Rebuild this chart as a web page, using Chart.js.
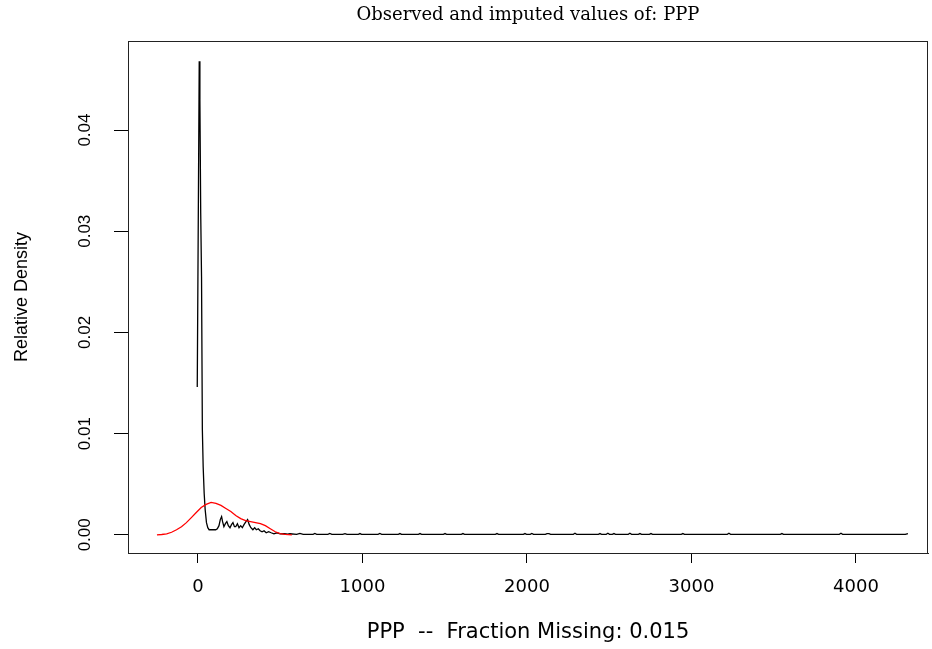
<!DOCTYPE html>
<html>
<head>
<meta charset="utf-8">
<script src="https://cdn.jsdelivr.net/npm/chart.js@4/dist/chart.umd.min.js"></script>
<style>
html, body { margin: 0; padding: 0; background: #ffffff; }
#wrap { width: 932px; height: 649px; }
</style>
</head>
<body>
<div id="wrap"><canvas id="c" width="932" height="649"></canvas></div>
<script>
// Observed density (black)
const obsX = [-4, 2, 8, 12, 17, 22, 27, 32, 38, 44, 52, 60, 68, 80, 95, 108, 118, 128, 136, 144,
  150, 158, 167, 176, 185, 195, 204, 213, 222, 230, 240, 250, 260, 270, 280, 292, 302, 312, 322, 334,
  345, 355, 367, 378, 390, 402, 415, 430, 445, 462, 480, 500, 525, 545,
  560, 600, 620, 640, 700, 711, 722, 790, 802, 814, 880, 894, 906, 975, 985, 995,
  1095, 1106, 1117, 1218, 1228, 1238, 1340, 1350, 1360, 1492, 1502, 1512, 1601, 1611, 1621,
  1808, 1818, 1828, 1978, 1988, 1998, 2020, 2030, 2040, 2112, 2122, 2134, 2144,
  2282, 2292, 2302, 2434, 2444, 2454, 2482, 2492, 2502, 2519, 2529, 2539,
  2616, 2626, 2636, 2677, 2687, 2697, 2744, 2754, 2764, 2938, 2948, 2958,
  3218, 3228, 3238, 3540, 3550, 3560, 3899, 3909, 3919, 4300, 4316];
const obsY = [0.0146, 0.0307, 0.0468, 0.0430, 0.0318, 0.0255, 0.0104, 0.0067, 0.0041, 0.0025,
  0.0012, 0.0007, 0.0005, 0.0005, 0.0005, 0.0005, 0.0006, 0.0009, 0.0015, 0.0018,
  0.0013, 0.0008, 0.0011, 0.0013, 0.0009, 0.0007, 0.0010, 0.0012, 0.0008, 0.0008,
  0.0011, 0.0007, 0.0009, 0.0007, 0.0010, 0.0013, 0.0015, 0.0010, 0.0007, 0.0005,
  0.0007, 0.0005, 0.0006, 0.0004, 0.0003, 0.0004, 0.0002, 0.0003, 0.0002, 0.0001,
  0.0002, 0.0001, 0.00012, 0.00006,
  0.0001, 0.00005, 0.00013, 0.00005, 0.00005, 0.00013, 0.00005, 0.00005, 0.00013, 0.00005,
  0.00005, 0.00012, 0.00005, 0.00005, 0.00012, 0.00005,
  0.00005, 0.00013, 0.00005, 0.00005, 0.00012, 0.00005, 0.00005, 0.00012, 0.00005,
  0.00005, 0.00012, 0.00005, 0.00005, 0.00012, 0.00005,
  0.00005, 0.00012, 0.00005, 0.00005, 0.00012, 0.00005, 0.00005, 0.00014, 0.00005,
  0.00005, 0.00012, 0.00012, 0.00005,
  0.00005, 0.00015, 0.00005, 0.00005, 0.00012, 0.00005, 0.00005, 0.00015, 0.00005,
  0.00005, 0.00012, 0.00005,
  0.00005, 0.00015, 0.00005, 0.00005, 0.00012, 0.00005, 0.00005, 0.00012, 0.00005,
  0.00005, 0.00012, 0.00005,
  0.00005, 0.00015, 0.00005, 0.00005, 0.00012, 0.00005, 0.00005, 0.00015, 0.00005,
  0.00005, 0.00012];

// Imputed density (red)
const impX = [-249, -220, -190, -160, -130, -100, -70, -40, -10, 20, 50, 80, 110, 140, 170,
  200, 230, 260, 290, 320, 350, 380, 410, 440, 470, 500, 530, 571];
const impY = [0.0, 0.00003, 0.0001, 0.00025, 0.0005, 0.0008, 0.0012, 0.0017, 0.0022, 0.0027,
  0.0030, 0.0032, 0.0031, 0.0029, 0.0026, 0.0023, 0.0019, 0.0016, 0.0014, 0.0013,
  0.0012, 0.0011, 0.0009, 0.0006, 0.0003, 0.00012, 0.00004, 0.0];

const xTicks = [0, 1000, 2000, 3000, 4000];
const xTickLabels = ['0', '1000', '2000', '3000', '4000'];
const yTicks = [0, 0.01, 0.02, 0.03, 0.04];
const yTickLabels = ['0.00', '0.01', '0.02', '0.03', '0.04'];

const titleText = 'Observed and imputed values of: PPP';
const xTitleText = 'PPP  --  Fraction Missing: 0.015';
const yTitleText = 'Relative Density';

const obsData = obsX.map((x, i) => ({ x: x, y: obsY[i] }));
const impData = impX.map((x, i) => ({ x: x, y: impY[i] }));

const boxPlugin = {
  id: 'box',
  afterDatasetsDraw(chart) {
    const { ctx, chartArea: a } = chart;
    ctx.save();
    ctx.strokeStyle = '#222';
    ctx.lineWidth = 1;
    ctx.strokeRect(Math.round(a.left) + 0.5, Math.round(a.top) + 0.5,
      Math.round(a.right - a.left) - 1, Math.round(a.bottom - a.top));
    ctx.restore();
  }
};

new Chart(document.getElementById('c'), {
  type: 'line',
  data: {
    datasets: [
      { label: 'Imputed', data: impData, borderColor: '#ff0000', borderWidth: 1.3,
        pointRadius: 0, tension: 0, fill: false },
      { label: 'Observed', data: obsData, borderColor: '#000000', borderWidth: 1.3,
        pointRadius: 0, tension: 0, fill: false }
    ]
  },
  options: {
    responsive: false,
    animation: false,
    devicePixelRatio: 1,
    layout: { padding: { left: 0, right: 4, top: 0, bottom: 0 } },
    plugins: {
      legend: { display: false },
      tooltip: { enabled: false },
      title: {
        display: true,
        text: titleText,
        fullSize: false,
        color: '#000',
        font: { family: 'DejaVu Serif', size: 18, weight: 'normal', lineHeight: 1.2 },
        padding: { top: 5, bottom: 14.4 }
      }
    },
    scales: {
      x: {
        type: 'linear',
        min: -425,
        max: 4438,
        afterBuildTicks: s => { s.ticks = xTicks.map(v => ({ value: v })); },
        afterFit: s => { s.height = 96; },
        grid: { display: true, drawOnChartArea: false, drawTicks: true, tickLength: 10, color: '#000', lineWidth: 1 },
        border: { display: true, color: '#222' },
        ticks: {
          callback: (v, i) => xTickLabels[i],
          color: '#000',
          font: { family: 'DejaVu Sans', size: 18 },
          padding: 14,
          maxRotation: 0, minRotation: 0, autoSkip: false
        },
        title: {
          display: true,
          text: xTitleText,
          color: '#000',
          font: { family: 'DejaVu Sans', size: 21, lineHeight: 1.2 },
          padding: { top: 0, bottom: 4 }
        }
      },
      y: {
        type: 'linear',
        min: -0.0018,
        max: 0.0488,
        afterBuildTicks: s => { s.ticks = yTicks.map(v => ({ value: v })); },
        afterFit: s => { s.width = 128; },
        grid: { display: true, drawOnChartArea: false, drawTicks: true, tickLength: 14, color: '#000', lineWidth: 1 },
        border: { display: true, color: '#222' },
        ticks: {
          callback: (v, i) => yTickLabels[i],
          color: '#000',
          font: { family: 'Liberation Sans', size: 17 },
          padding: 12,
          minRotation: 90, maxRotation: 90,
          crossAlign: 'center',
          autoSkip: false
        },
        title: {
          display: true,
          text: yTitleText,
          color: '#000',
          font: { family: 'Liberation Sans', size: 18, lineHeight: 1.2 },
          padding: { top: 11, bottom: 0 }
        }
      }
    }
  },
  plugins: [boxPlugin]
});
</script>
</body>
</html>
